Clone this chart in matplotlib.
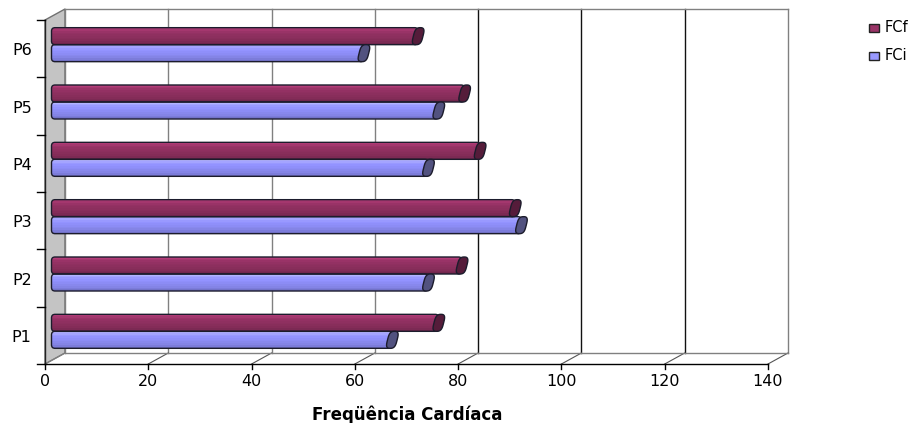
import matplotlib
matplotlib.use("Agg")
import matplotlib.pyplot as plt
import numpy as np
from matplotlib.patches import Polygon, FancyBboxPatch, Rectangle
from matplotlib.transforms import Affine2D

plt.rcParams['font.family'] = ['DejaVu Sans']

categories = ['P1', 'P2', 'P3', 'P4', 'P5', 'P6']
fci_values = [66, 73, 91, 73, 75, 60.5]
fcf_values = [75, 79.5, 89.8, 83, 80, 71]
x_ticks = [0, 20, 40, 60, 80, 100, 120, 140]
series_names = ['FCf', 'FCi']

W, H = 918, 423
LEFT, RIGHT, BOTTOM, TOP = 45, 768, 364, 20
DX, DY = 20, 11

fig = plt.figure(figsize=(W / 100, H / 100), dpi=100)
ax = fig.add_axes([LEFT / W, 1 - BOTTOM / H, (RIGHT - LEFT) / W, (BOTTOM - TOP) / H])
ax.set_xlim(0, 140)
ax.set_ylim(0, 6)
ax.axis('off')


def shifted(dx, dy):
    """Data transform moved by dx, dy pixels (dy positive upwards)."""
    return ax.transData + Affine2D().translate(dx, dy)


def shade(color, factor):
    c = np.array(matplotlib.colors.to_rgb(color))
    return tuple(np.clip(c * factor, 0, 1))


back = shifted(DX, DY)

# side wall
ax.add_patch(Polygon(
    [ax.transData.transform((0, 0)), ax.transData.transform((0, 6)),
     back.transform((0, 6)), back.transform((0, 0))],
    closed=True, transform=Affine2D(), facecolor='#c4c4c4', edgecolor='#707070', lw=1,
    zorder=1, clip_on=False))

# back wall grid and floor
for v in x_ticks:
    col = '#111111' if 80 <= v < 140 else '#808080'
    ax.plot([v, v], [0, 6], color=col, lw=1, transform=back, clip_on=False, zorder=1)
    p0 = ax.transData.transform((v, 0))
    p1 = back.transform((v, 0))
    ax.plot([p0[0], p1[0]], [p0[1], p1[1]], color='#555555' if v else '#808080',
            lw=0.8, transform=Affine2D(), clip_on=False, zorder=1)
    ax.plot([v, v], [0, -0.09], color='black', lw=1, clip_on=False, zorder=2)
    ax.text(v, -0.31, str(v), ha='center', va='center', fontsize=11.5, color='black')
ax.plot([0, 140], [6, 6], color='#808080', lw=1, transform=back, clip_on=False, zorder=1)
ax.plot([0, 140], [0, 0], color='#808080', lw=1, transform=back, clip_on=False, zorder=1)

# front axis lines and category ticks
ax.plot([0, 140], [0, 0], color='black', lw=1, clip_on=False, zorder=2)
ax.plot([0, 0], [0, 6], color='#222222', lw=1, clip_on=False, zorder=2)
for i in range(7):
    ax.plot([-1.55, 0], [i, i], color='black', lw=1, clip_on=False, zorder=2)
for i, name in enumerate(categories):
    ax.text(-4.5, i + 0.46, name, ha='center', va='center', fontsize=11.5, color='black')

# cylinder bars
BAR_PX = 17
BAR_H = BAR_PX / ((BOTTOM - TOP) / 6)
BAR_DX, BAR_DY = 6.5, 4
body = shifted(BAR_DX, BAR_DY)
profile = [1.25, 1.15, 1.07, 1.03, 1.0, 0.98, 0.95, 0.92, 0.87, 0.8]
EDGE = '#1c1c2c'

# end cap outline: squarish on the outer side, leaning with the depth of the tube
t = np.linspace(0, 2 * np.pi, 60)
cap_x = 4.8 * np.sign(np.cos(t)) * np.abs(np.cos(t)) ** 0.75
cap_y = (BAR_PX / 2) * np.sign(np.sin(t)) * np.abs(np.sin(t)) ** 0.55
cap_xy = np.column_stack([cap_x + 0.25 * cap_y, cap_y])


def draw_bar(value, y0, color, cap_color):
    x_start, y_low = body.transform((0, y0))
    x_end, y_high = body.transform((value, y0 + BAR_H))
    outline = FancyBboxPatch((x_start, y_low), x_end - x_start, y_high - y_low,
                             boxstyle='round,pad=0,rounding_size=3.5',
                             transform=Affine2D(), facecolor='none', edgecolor=EDGE,
                             lw=1, zorder=4, clip_on=False)
    ax.add_patch(outline)
    step = BAR_H / len(profile)
    for k, f in enumerate(profile):
        strips = ax.barh(y0 + BAR_H - (k + 1) * step, value, height=step * 1.05, align='edge',
                         color=shade(color, f), lw=0, transform=body, zorder=3)
        for strip in strips:
            strip.set_clip_path(outline)
    ym = y0 + BAR_H / 2
    ex, ey = body.transform((value, ym))
    ax.add_patch(Polygon(cap_xy, closed=True, facecolor=cap_color, edgecolor=EDGE, lw=1,
                         transform=Affine2D().translate(ex, ey), zorder=5, clip_on=False))


for i in range(6):
    draw_bar(fci_values[i], i + 0.5 - BAR_H, '#8f8ffa', '#52527f')
    draw_bar(fcf_values[i], i + 0.5, '#8f3060', '#551c3a')

# legend
legend_rows = [(28, '#993366', series_names[0]), (56, '#9999ff', series_names[1])]
for y, col, label in legend_rows:
    fig.add_artist(Rectangle((869 / W, 1 - (y + 4) / H), 10 / W, 8 / H, facecolor=col,
                             edgecolor='#222222', lw=1, transform=fig.transFigure))
    fig.text(885 / W, 1 - y / H, label, fontsize=10.5, va='center', ha='left')

fig.text(407 / W, 1 - 415 / H, 'Freqüência Cardíaca', fontsize=12, fontweight='bold',
         ha='center', va='center')

fig.savefig('out.png', dpi=100)
